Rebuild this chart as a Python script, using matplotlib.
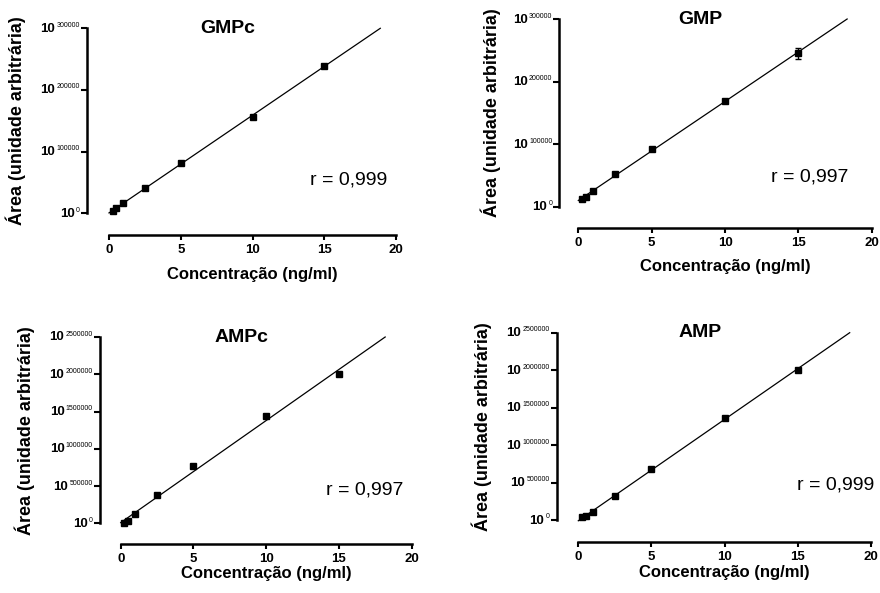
import numpy as np
import matplotlib
matplotlib.use("Agg")
import matplotlib.pyplot as plt

plt.rcParams["font.family"] = ["Liberation Sans", "DejaVu Sans"]

# data (ng/ml vs area)
concentration = [0.25, 0.5, 1, 2.5, 5, 10, 15]

gmpc_area = [4200, 8100, 16200, 41500, 81100, 156200, 239400]
gmpc_err = [0, 0, 0, 0, 0, 0, 2500]
gmp_area = [11700, 16000, 24500, 52300, 92800, 169000, 245300]
gmp_err = [0, 0, 0, 0, 0, 0, 8800]
ampc_area = [8000, 35000, 130000, 375000, 773000, 1434000, 2001000]
ampc_err = [0, 0, 0, 0, 0, 0, 0]
amp_area = [35600, 49000, 107000, 320000, 684000, 1364000, 2000000]
amp_err = [0, 0, 0, 0, 0, 15000, 0]

titles = ["GMPc", "GMP", "AMPc", "AMP"]
r_labels = ["r = 0,999", "r = 0,997", "r = 0,997", "r = 0,999"]
small_ticks = [0, 100000, 200000, 300000]
big_ticks = [0, 500000, 1000000, 1500000, 2000000, 2500000]
x_ticks = [0, 5, 10, 15, 20]

W, H = 880, 593

# pixel boxes: x0, x1 (data 0..20), y_top, y_bottom, spine offsets, label positions
panels = [
    dict(area=gmpc_area, err=gmpc_err, ticks=small_ticks, box=(109, 396, 28.3, 213.3),
         off=(22, 22), ylab=-83, xlab=54, rpos=(16.7, 0.18)),
    dict(area=gmp_area, err=gmp_err, ticks=small_ticks, box=(578.3, 871.7, 19, 206.7),
         off=(19, 21.6), ylab=-77, xlab=52, rpos=(15.8, 0.16)),
    dict(area=ampc_area, err=ampc_err, ticks=big_ticks, box=(120.7, 411.7, 337, 523.3),
         off=(20.7, 21), ylab=-86, xlab=43, rpos=(16.8, 0.177)),
    dict(area=amp_area, err=amp_err, ticks=big_ticks, box=(578.3, 870.7, 332.7, 520),
         off=(21.6, 22), ylab=-86, xlab=45, rpos=(17.6, 0.185)),
]

fig = plt.figure(figsize=(W / 100, H / 100), dpi=100)
renderer = fig.canvas.get_renderer()
px2pt = 72 / 100
tick_px = 6

for i, p in enumerate(panels):
    x0, x1, yt, yb = p["box"]
    ax = fig.add_axes([x0 / W, (H - yb) / H, (x1 - x0) / W, (yb - yt) / H])
    ymax = p["ticks"][-1]

    ax.errorbar(concentration, p["area"], yerr=p["err"], fmt="s", color="black",
                markersize=4.2, elinewidth=1, capsize=2, capthick=1, clip_on=False, zorder=3)

    slope, inter = np.polyfit(concentration, p["area"], 1)
    x_end = (ymax - inter) / slope
    xs = np.array([0, x_end])
    ax.plot(xs, slope * xs + inter, color="black", linewidth=0.9, clip_on=False)

    ax.set_xlim(0, 20)
    ax.set_ylim(0, ymax)
    for side in ["top", "right"]:
        ax.spines[side].set_visible(False)
    ax.spines["left"].set_position(("outward", p["off"][0] * px2pt))
    ax.spines["bottom"].set_position(("outward", p["off"][1] * px2pt))
    ax.spines["left"].set_linewidth(1.8)
    ax.spines["bottom"].set_linewidth(1.8)

    ax.set_xticks(x_ticks)
    ax.set_xticklabels([str(t) for t in x_ticks], fontsize=9.5, fontweight="bold")
    ax.set_yticks(p["ticks"])
    ax.set_yticklabels([])
    ax.tick_params(axis="x", direction="out", length=4.5 * px2pt, width=1.5, pad=3)
    ax.tick_params(axis="y", direction="out", length=tick_px * px2pt, width=1.5)

    # "10" with a tiny exponent, like the original software's labels
    right_px = p["off"][0] + tick_px + 1
    for t in p["ticks"]:
        ex = ax.annotate(str(t), xy=(0, t), xycoords=("axes fraction", "data"),
                         xytext=(-right_px * px2pt, 3 * px2pt), textcoords="offset points",
                         ha="right", va="center", fontsize=5)
        w = ex.get_window_extent(renderer).width
        ax.annotate("10", xy=(0, t), xycoords=("axes fraction", "data"),
                    xytext=(-(right_px + w + 1.5) * px2pt, -0.5 * px2pt),
                    textcoords="offset points", ha="right", va="center",
                    fontsize=9.5, fontweight="bold")

    ax.set_xlabel("Concentração (ng/ml)", fontsize=12, fontweight="bold")
    ax.set_ylabel("Área (unidade arbitrária)", fontsize=13, fontweight="bold")
    ax.xaxis.set_label_coords(0.5, -p["xlab"] / (yb - yt))
    ax.yaxis.set_label_coords(p["ylab"] / (x1 - x0), 0.5)

    ax.text(8.3, ymax, titles[i], fontsize=14, fontweight="bold", ha="center", va="center")
    ax.text(p["rpos"][0], p["rpos"][1] * ymax, r_labels[i], fontsize=14,
            ha="center", va="center")

fig.savefig("out.png", dpi=100)
